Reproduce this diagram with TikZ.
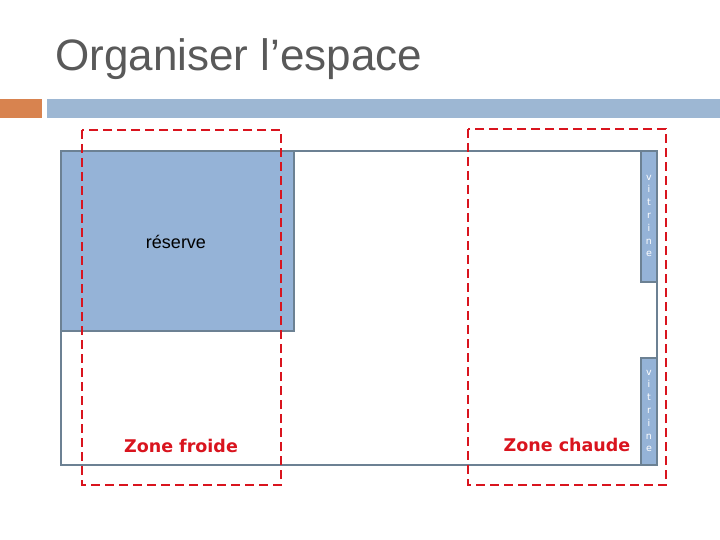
\documentclass[tikz,border=0pt]{standalone}
\usepackage{fontspec}
\setmainfont{Liberation Sans}
\newfontfamily\verd{DejaVu Sans}
\definecolor{blu}{HTML}{95B3D7}
\definecolor{edge}{HTML}{6C8193}
\definecolor{zred}{HTML}{D9141E}
\definecolor{orng}{HTML}{D8834F}
\definecolor{bar}{HTML}{9DB7D3}
\definecolor{ttl}{HTML}{595959}
\tikzset{wall/.style={draw=edge,line width=2.5pt},
zone/.style={draw=zred,line width=2.5pt,dash pattern=on 9pt off 5pt},
ztext/.style={text=zred,font=\verd\bfseries\fontsize{17.5}{20}\selectfont},
vit/.style={fill=blu,draw=edge,line width=2pt},
vtext/.style={text=white,font=\verd\fontsize{9.5}{12.8}\selectfont,align=center,inner sep=0pt}}
\begin{document}
\begin{tikzpicture}[x=1pt,y=-1pt]
\useasboundingbox (0,0) rectangle (720,540);
\node[anchor=west,text=ttl,font=\fontsize{44}{48}\selectfont,inner sep=0pt] (title) at (55,59) {Organiser l’espace};
\fill[orng] (0,99) rectangle (42,118);
\fill[bar] (47,99) rectangle (720,118);
\draw[wall] (61,151) rectangle (657,465);
\draw[wall,fill=blu] (61,151) rectangle (294,331);
\node (res) at (176,242) {\fontsize{18}{21}\selectfont réserve};
\draw[vit] (641,151) rectangle (657,282);
\draw[vit] (641,358) rectangle (657,465);
\node[vtext] (v1) at (649,216) {v\\i\\t\\r\\i\\n\\e};
\node[vtext] (v2) at (649,411) {v\\i\\t\\r\\i\\n\\e};
\draw[zone] (82,130) rectangle (281,485);
\draw[zone] (468,129) rectangle (666,485);
\node[ztext] (zf) at (181,446) {Zone froide};
\node[ztext] (zc) at (567,445) {Zone chaude};
\end{tikzpicture}
\end{document}
